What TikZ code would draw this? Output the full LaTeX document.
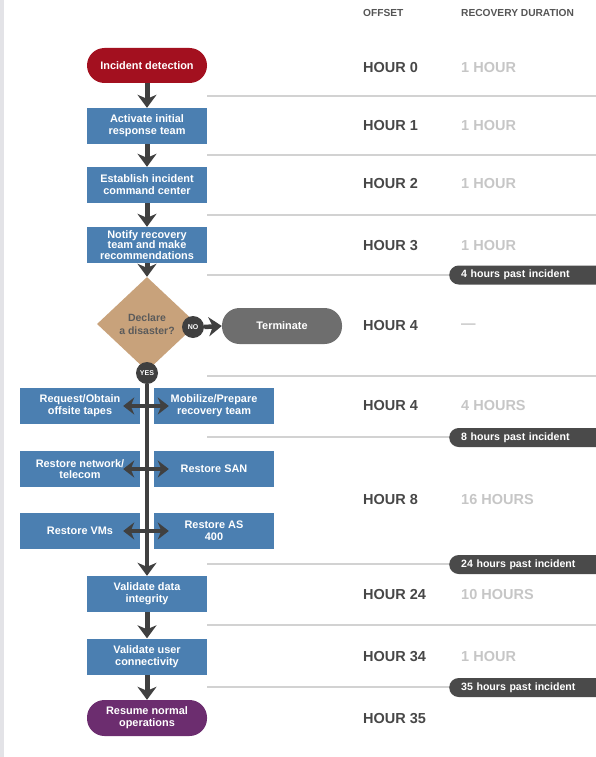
\documentclass[tikz,border=0pt]{standalone}
\usepackage{fontspec}
\setmainfont{Liberation Sans}
\usetikzlibrary{arrows.meta,shapes.geometric}
\definecolor{redpill}{HTML}{A3101F}
\definecolor{boxblue}{HTML}{4B7FB1}
\definecolor{purplepill}{HTML}{6C2D6F}
\definecolor{termgray}{HTML}{6E6E6E}
\definecolor{arrowgray}{HTML}{404040}
\definecolor{tan}{HTML}{C8A27B}
\definecolor{badgegray}{HTML}{4A4A4A}
\definecolor{rulegray}{HTML}{D2D2D2}
\definecolor{stripgray}{HTML}{E3E3E7}
\definecolor{hourtext}{HTML}{474747}
\definecolor{durtext}{HTML}{C6C6C6}
\definecolor{headtext}{HTML}{555555}
\definecolor{diatext}{HTML}{5B5B5B}
\newcommand\myboxfont{\fontsize{10.9}{11.8}\selectfont\bfseries}
\begin{document}
\begin{tikzpicture}[x=1pt,y=-1pt,
  pillbox/.style={rectangle, rounded corners=17.5pt, minimum width=120pt, minimum height=35pt, inner sep=0pt, text=white, font=\myboxfont, align=center},
  stepbox/.style={rectangle, fill=boxblue, minimum width=120pt, minimum height=36pt, inner sep=0pt, text=white, font=\myboxfont, align=center},
  flowarrow/.style={draw=arrowgray, line width=5pt, -{Stealth[width=19pt,length=13pt,inset=4pt]}},
  dblarrow/.style={draw=arrowgray, line width=4.5pt, {Stealth[width=17pt,length=11pt,inset=3.5pt]}-{Stealth[width=17pt,length=11pt,inset=3.5pt]}},
  rulel/.style={draw=rulegray, line width=1.3pt},
  badge/.style={rectangle, fill=badgegray, rounded corners=9.5pt, minimum height=19pt, inner ysep=0pt, inner xsep=12pt, text width=160pt, align=left, text=white, font=\fontsize{10.6}{12}\selectfont\bfseries, anchor=west},
  hourlbl/.style={anchor=west, inner sep=0pt, text=hourtext, font=\fontsize{14.5}{16}\selectfont\bfseries},
  durlbl/.style={anchor=west, inner sep=0pt, text=durtext, font=\fontsize{14.5}{16}\selectfont\bfseries},
  headlbl/.style={anchor=west, inner sep=0pt, text=headtext, font=\fontsize{10.2}{12}\selectfont\bfseries},
  yesno/.style={circle, fill=arrowgray, minimum size=22pt, inner sep=0pt, text=white, font=\fontsize{7}{8}\selectfont\bfseries}
]
\useasboundingbox (0,0) rectangle (596,757);
\fill[stripgray] (0,0) rectangle (4,757);

% horizontal rules on the right
\draw[rulel] (207,96) -- (596,96);
\draw[rulel] (207,155) -- (596,155);
\draw[rulel] (207,215) -- (596,215);
\draw[rulel] (207,275) -- (460,275);
\draw[rulel] (207,376) -- (596,376);
\draw[rulel] (207,437) -- (460,437);
\draw[rulel] (207,564) -- (460,564);
\draw[rulel] (207,625) -- (596,625);
\draw[rulel] (207,687) -- (460,687);

% badges
\node[badge] (bg4) at (449,275) {4 hours past incident};
\node[badge] (bg8) at (449,437.5) {8 hours past incident};
\node[badge] (bg24) at (449,564.5) {24 hours past incident};
\node[badge] (bg35) at (449,687.5) {35 hours past incident};

% headers
\node[headlbl] (hoff) at (363,13) {OFFSET};
\node[headlbl] (hdur) at (461,13) {RECOVERY DURATION};

% hour labels
\node[hourlbl] (h0) at (363,68) {HOUR 0};
\node[durlbl] (d0) at (461,68) {1 HOUR};
\node[hourlbl] (h1) at (363,126) {HOUR 1};
\node[durlbl] (d1) at (461,126) {1 HOUR};
\node[hourlbl] (h2) at (363,184) {HOUR 2};
\node[durlbl] (d2) at (461,184) {1 HOUR};
\node[hourlbl] (h3) at (363,246) {HOUR 3};
\node[durlbl] (d3) at (461,246) {1 HOUR};
\node[hourlbl] (h4a) at (363,326) {HOUR 4};
\node[durlbl] (d4a) at (461,326) {\textemdash};
\node[hourlbl] (h4b) at (363,406) {HOUR 4};
\node[durlbl] (d4b) at (461,406) {4 HOURS};
\node[hourlbl] (h8) at (363,500) {HOUR 8};
\node[durlbl] (d8) at (461,500) {16 HOURS};
\node[hourlbl] (h24) at (363,595) {HOUR 24};
\node[durlbl] (d24) at (461,595) {10 HOURS};
\node[hourlbl] (h34) at (363,657) {HOUR 34};
\node[durlbl] (d34) at (461,657) {1 HOUR};
\node[hourlbl] (h35) at (363,719) {HOUR 35};

% flowchart nodes
\node[pillbox, fill=redpill] (start) at (147,65.5) {Incident detection};
\node[stepbox] (b1) at (147,126) {Activate initial\\response team};
\node[stepbox] (b2) at (147,185) {Establish incident\\command center};
\node[stepbox, font=\fontsize{10.9}{10.8}\selectfont\bfseries] (b3) at (147,245) {Notify recovery\\team and make\\recommendations};
\node[diamond, fill=tan, minimum width=100pt, minimum height=94pt, inner sep=0pt, text=diatext, align=center, font=\fontsize{10.5}{13.5}\selectfont\bfseries] (dec) at (147,324) {Declare\\a disaster?};
\node[yesno] (no) at (193,327) {NO};
\node[pillbox, fill=termgray, minimum height=36pt] (term) at (282,326) {Terminate};
\node[yesno] (yes) at (147,373) {YES};

\node[stepbox] (r1l) at (80,406) {Request/Obtain\\offsite tapes};
\node[stepbox] (r1r) at (214,406) {Mobilize/Prepare\\recovery team};
\node[stepbox] (r2l) at (80,469) {Restore network/\\telecom};
\node[stepbox] (r2r) at (214,469) {Restore SAN};
\node[stepbox] (r3l) at (80,531) {Restore VMs};
\node[stepbox] (r3r) at (214,531) {Restore AS\\400};

\node[stepbox] (vd) at (147,594) {Validate data\\integrity};
\node[stepbox] (vu) at (147,656.5) {Validate user\\connectivity};
\node[pillbox, fill=purplepill, minimum height=36pt] (resume) at (147,718) {Resume normal\\operations};

% connectors
\draw[flowarrow] (start.south) -- (b1.north);
\draw[flowarrow] (b1.south) -- (b2.north);
\draw[flowarrow] (b2.south) -- (b3.north);
\draw[flowarrow] (b3.south) -- (dec.north);
\draw[flowarrow, line width=4.5pt] (no.east) -- (term.west);
\draw[flowarrow, line width=4.5pt] (yes.south) -- (vd.north);
\draw[dblarrow, shorten <=-17pt, shorten >=-15pt] (r1l.east) -- (r1r.west);
\draw[dblarrow, shorten <=-17pt, shorten >=-15pt] (r2l.east) -- (r2r.west);
\draw[dblarrow, shorten <=-17pt, shorten >=-15pt] (r3l.east) -- (r3r.west);
\draw[flowarrow] (vd.south) -- (vu.north);
\draw[flowarrow] (vu.south) -- (resume.north);
\end{tikzpicture}
\end{document}
